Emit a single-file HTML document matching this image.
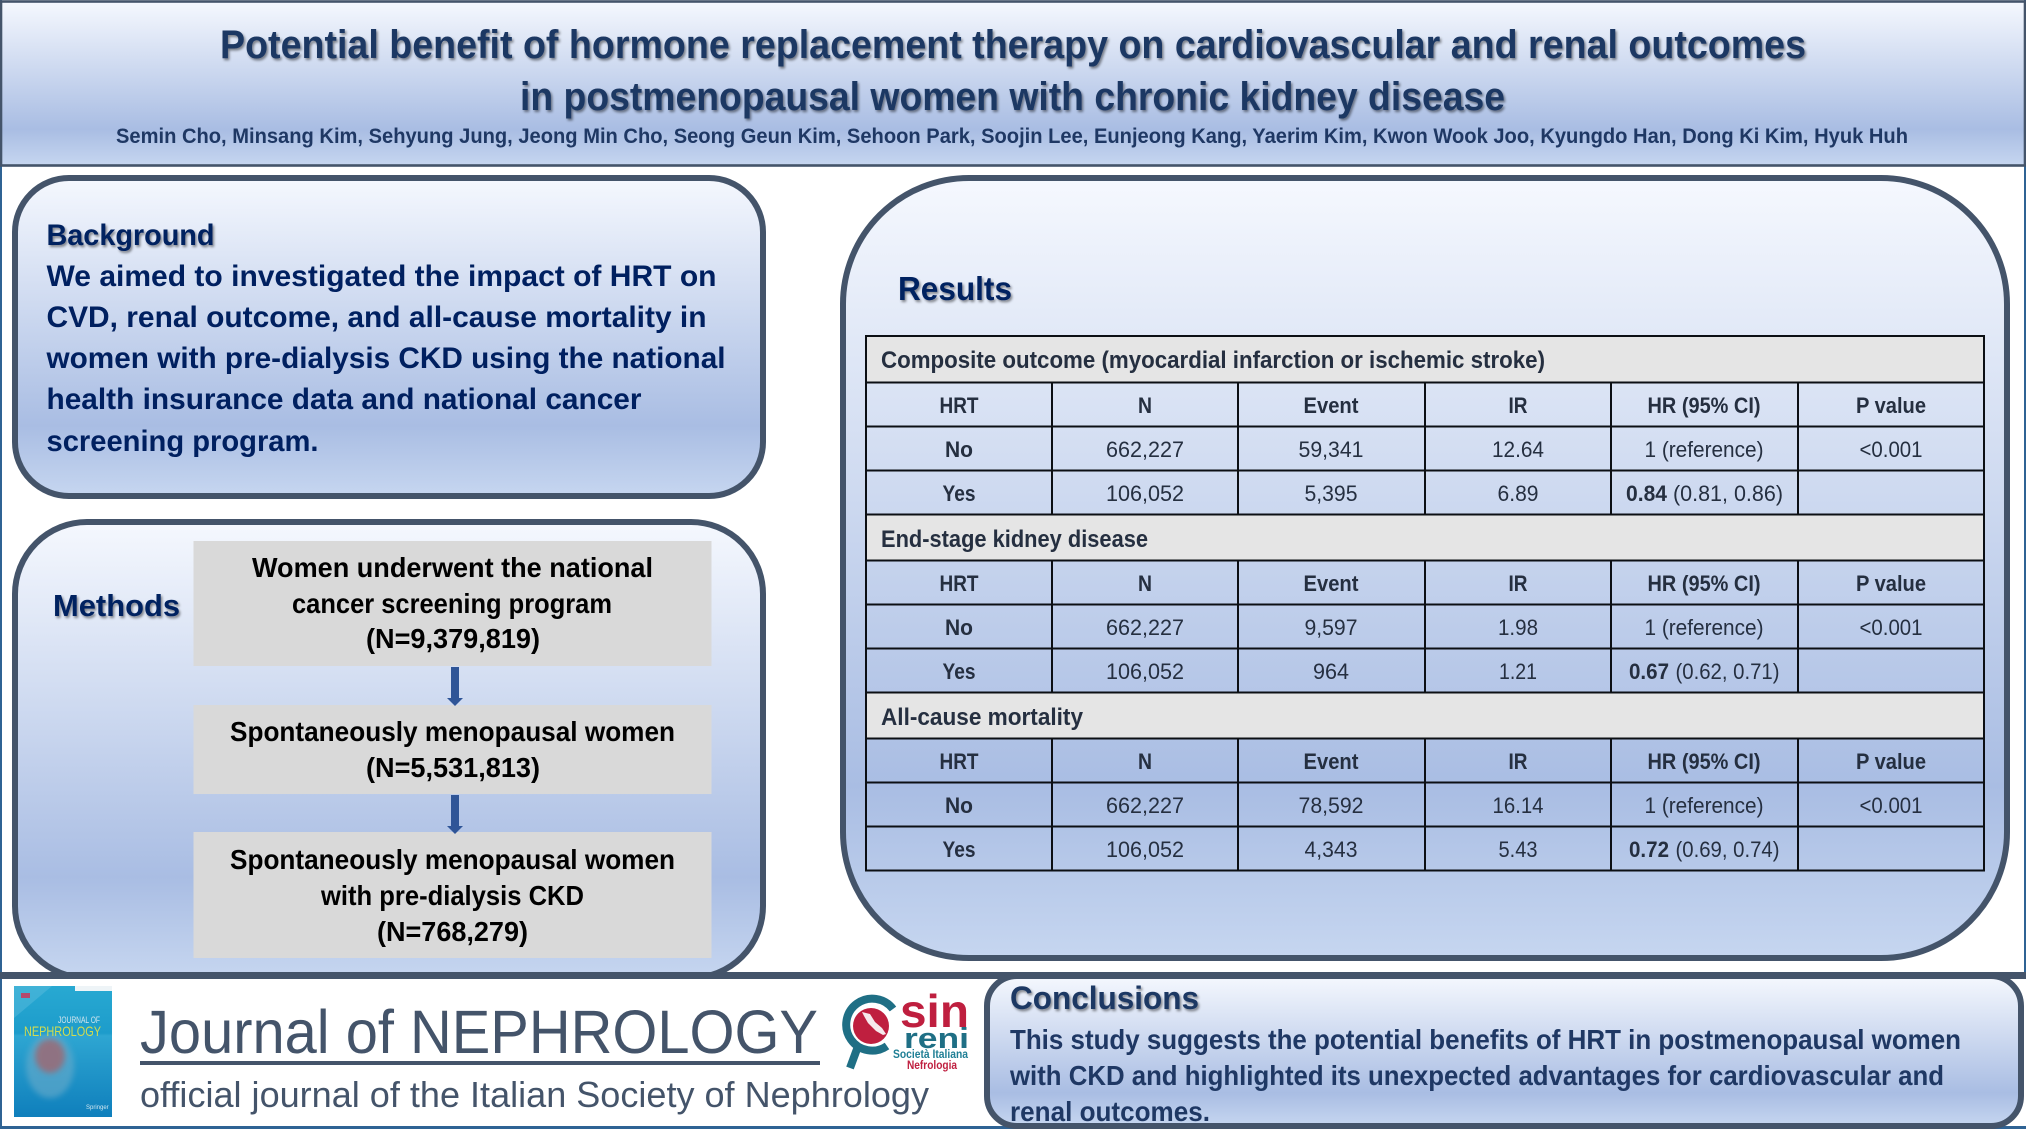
<!DOCTYPE html>
<html lang="en">
<head>
<meta charset="utf-8">
<title>Potential benefit of hormone replacement therapy</title>
<style>
html,body{margin:0;padding:0;background:#fff;width:2026px;height:1130px;overflow:hidden}
svg{display:block;font-family:"Liberation Sans",Arial,sans-serif}
.t{font-weight:700;fill:#1f3864}
.n{font-weight:700;fill:#002060}
.k{font-weight:700;fill:#000;font-size:28px}
.sh{filter:url(#shadow)}
.c{font-size:22px;fill:#252f40;text-anchor:middle}
.b{font-size:22px;fill:#252f40;font-weight:700;text-anchor:middle}
.h{font-size:24px;fill:#252f40;font-weight:700}
.l{font-size:22px;fill:#252f40}
.lb{font-size:22px;fill:#252f40;font-weight:700}
</style>
</head>
<body>
<svg xmlns="http://www.w3.org/2000/svg" width="2026" height="1130" viewBox="0 0 2026 1130">
<defs>
<filter id="shadow" x="-5%" y="-30%" width="110%" height="170%"><feDropShadow dx="1.5" dy="2" stdDeviation="1.4" flood-color="#000" flood-opacity=".45"/></filter>
<filter id="soft" x="-30%" y="-30%" width="160%" height="160%"><feGaussianBlur stdDeviation="3"/></filter>
<linearGradient id="panel" x1="0" y1="0" x2="0" y2="1"><stop offset="0" stop-color="#f5f8fe"/><stop offset=".78" stop-color="#a9bde3"/><stop offset="1" stop-color="#c6d6f0"/></linearGradient>
<linearGradient id="cover" x1="0" y1="0" x2="0" y2="1"><stop offset="0" stop-color="#28a9d2"/><stop offset=".36" stop-color="#1d9ccb"/><stop offset=".38" stop-color="#2ea6d2"/><stop offset="1" stop-color="#0f7fbc"/></linearGradient>
</defs>

<!-- page frame -->
<rect x="0" y="0" width="2026" height="1130" fill="#fff"/>
<path d="M1 0V1128H2025V0" fill="none" stroke="#2f6394" stroke-width="2"/>

<!-- header -->
<g>
<rect x="1" y="1.5" width="2024" height="164" fill="url(#panel)" stroke="#44546a" stroke-width="2.6"/>
<text class="t sh" x="220" y="58" font-size="40" textLength="1586" lengthAdjust="spacingAndGlyphs">Potential benefit of hormone replacement therapy on cardiovascular and renal outcomes</text>
<text class="t sh" x="520" y="110" font-size="40" textLength="985" lengthAdjust="spacingAndGlyphs">in postmenopausal women with chronic kidney disease</text>
<text class="t" x="116" y="143" font-size="21" textLength="1792" lengthAdjust="spacingAndGlyphs">Semin Cho, Minsang Kim, Sehyung Jung, Jeong Min Cho, Seong Geun Kim, Sehoon Park, Soojin Lee, Eunjeong Kang, Yaerim Kim, Kwon Wook Joo, Kyungdo Han, Dong Ki Kim, Hyuk Huh</text>
</g>

<!-- background -->
<g>
<rect x="15" y="178" width="748" height="318" rx="54" fill="url(#panel)" stroke="#44546a" stroke-width="6"/>
<text class="n sh" x="46.5" y="245" font-size="30" textLength="168" lengthAdjust="spacingAndGlyphs">Background</text>
<text class="n" x="46.5" y="286" font-size="30" textLength="670" lengthAdjust="spacingAndGlyphs">We aimed to investigated the impact of HRT on</text>
<text class="n" x="46.5" y="327" font-size="30" textLength="660" lengthAdjust="spacingAndGlyphs">CVD, renal outcome, and all-cause mortality in</text>
<text class="n" x="46.5" y="368" font-size="30" textLength="679" lengthAdjust="spacingAndGlyphs">women with pre-dialysis CKD using the national</text>
<text class="n" x="46.5" y="409" font-size="30" textLength="595" lengthAdjust="spacingAndGlyphs">health insurance data and national cancer</text>
<text class="n" x="46.5" y="451" font-size="30" textLength="272" lengthAdjust="spacingAndGlyphs">screening program.</text>
</g>

<!-- methods -->
<g>
<rect x="15" y="522" width="748" height="456" rx="72" fill="url(#panel)" stroke="#44546a" stroke-width="6"/>
<text class="n sh" x="53" y="616" font-size="31" textLength="127" lengthAdjust="spacingAndGlyphs">Methods</text>
<rect x="193.500" y="541" width="518" height="125" fill="#d9d9d9"/>
<rect x="193.500" y="705" width="518" height="89" fill="#d9d9d9"/>
<rect x="193.500" y="832" width="518" height="126" fill="#d9d9d9"/>
<path d="M451 667h8v31h4l-8 8-8-8h4z" fill="#2f5597"/>
<path d="M451 795h8v31h4l-8 8-8-8h4z" fill="#2f5597"/>
<text class="k" x="252" y="577" textLength="401" lengthAdjust="spacingAndGlyphs">Women underwent the national</text>
<text class="k" x="292" y="613" textLength="320" lengthAdjust="spacingAndGlyphs">cancer screening program</text>
<text class="k" x="366" y="648" textLength="174" lengthAdjust="spacingAndGlyphs">(N=9,379,819)</text>
<text class="k" x="230" y="741" textLength="445" lengthAdjust="spacingAndGlyphs">Spontaneously menopausal women</text>
<text class="k" x="366" y="777" textLength="174" lengthAdjust="spacingAndGlyphs">(N=5,531,813)</text>
<text class="k" x="230" y="869" textLength="445" lengthAdjust="spacingAndGlyphs">Spontaneously menopausal women</text>
<text class="k" x="321" y="905" textLength="263" lengthAdjust="spacingAndGlyphs">with pre-dialysis CKD</text>
<text class="k" x="377" y="941" textLength="151" lengthAdjust="spacingAndGlyphs">(N=768,279)</text>
</g>

<!-- results -->
<g>
<rect x="843" y="178" width="1164" height="780" rx="126" fill="url(#panel)" stroke="#44546a" stroke-width="6"/>
<text class="n sh" x="898" y="300" font-size="33" textLength="114" lengthAdjust="spacingAndGlyphs">Results</text>
</g>

<g>
<rect x="866" y="336" width="1118" height="46.500" fill="#e5e5e5"/>
<rect x="866" y="514.500" width="1118" height="46" fill="#e5e5e5"/>
<rect x="866" y="692.500" width="1118" height="46" fill="#e5e5e5"/>
<path d="M865 336H1985M865 382.500H1985M865 426.500H1985M865 470.500H1985M865 514.500H1985M865 560.500H1985M865 604.500H1985M865 648.500H1985M865 692.500H1985M865 738.500H1985M865 782.500H1985M865 826.500H1985M865 870.500H1985M866 335V871.500M1984 335V871.500M1052 382.500V514.500M1238 382.500V514.500M1425 382.500V514.500M1611 382.500V514.500M1798 382.500V514.500M1052 560.500V692.500M1238 560.500V692.500M1425 560.500V692.500M1611 560.500V692.500M1798 560.500V692.500M1052 738.500V870.500M1238 738.500V870.500M1425 738.500V870.500M1611 738.500V870.500M1798 738.500V870.500" fill="none" stroke="#0c0f14" stroke-width="2"/>

<text class="h" x="881" y="368" textLength="664" lengthAdjust="spacingAndGlyphs">Composite outcome (myocardial infarction or ischemic stroke)</text>
<text class="b" x="959" y="413" textLength="39" lengthAdjust="spacingAndGlyphs">HRT</text>
<text class="b" x="1145" y="413" textLength="14" lengthAdjust="spacingAndGlyphs">N</text>
<text class="b" x="1331" y="413" textLength="55" lengthAdjust="spacingAndGlyphs">Event</text>
<text class="b" x="1518" y="413" textLength="19" lengthAdjust="spacingAndGlyphs">IR</text>
<text class="b" x="1704" y="413" textLength="113" lengthAdjust="spacingAndGlyphs">HR (95% CI)</text>
<text class="b" x="1891" y="413" textLength="70" lengthAdjust="spacingAndGlyphs">P value</text>
<text class="b" x="959" y="457" textLength="28" lengthAdjust="spacingAndGlyphs">No</text>
<text class="c" x="1145" y="457" textLength="78" lengthAdjust="spacingAndGlyphs">662,227</text>
<text class="c" x="1331" y="457" textLength="65" lengthAdjust="spacingAndGlyphs">59,341</text>
<text class="c" x="1518" y="457" textLength="52" lengthAdjust="spacingAndGlyphs">12.64</text>
<text class="c" x="1704" y="457" textLength="119" lengthAdjust="spacingAndGlyphs">1 (reference)</text>
<text class="c" x="1891" y="457" textLength="63" lengthAdjust="spacingAndGlyphs">&lt;0.001</text>
<text class="b" x="959" y="501" textLength="33" lengthAdjust="spacingAndGlyphs">Yes</text>
<text class="c" x="1145" y="501" textLength="78" lengthAdjust="spacingAndGlyphs">106,052</text>
<text class="c" x="1331" y="501" textLength="53" lengthAdjust="spacingAndGlyphs">5,395</text>
<text class="c" x="1518" y="501" textLength="41" lengthAdjust="spacingAndGlyphs">6.89</text>
<text class="lb" x="1626" y="501" textLength="41" lengthAdjust="spacingAndGlyphs">0.84</text>
<text class="l" x="1673" y="501" textLength="110" lengthAdjust="spacingAndGlyphs">(0.81, 0.86)</text>

<text class="h" x="881" y="547" textLength="267" lengthAdjust="spacingAndGlyphs">End-stage kidney disease</text>
<text class="b" x="959" y="591" textLength="39" lengthAdjust="spacingAndGlyphs">HRT</text>
<text class="b" x="1145" y="591" textLength="14" lengthAdjust="spacingAndGlyphs">N</text>
<text class="b" x="1331" y="591" textLength="55" lengthAdjust="spacingAndGlyphs">Event</text>
<text class="b" x="1518" y="591" textLength="19" lengthAdjust="spacingAndGlyphs">IR</text>
<text class="b" x="1704" y="591" textLength="113" lengthAdjust="spacingAndGlyphs">HR (95% CI)</text>
<text class="b" x="1891" y="591" textLength="70" lengthAdjust="spacingAndGlyphs">P value</text>
<text class="b" x="959" y="635" textLength="28" lengthAdjust="spacingAndGlyphs">No</text>
<text class="c" x="1145" y="635" textLength="78" lengthAdjust="spacingAndGlyphs">662,227</text>
<text class="c" x="1331" y="635" textLength="53" lengthAdjust="spacingAndGlyphs">9,597</text>
<text class="c" x="1518" y="635" textLength="40" lengthAdjust="spacingAndGlyphs">1.98</text>
<text class="c" x="1704" y="635" textLength="119" lengthAdjust="spacingAndGlyphs">1 (reference)</text>
<text class="c" x="1891" y="635" textLength="63" lengthAdjust="spacingAndGlyphs">&lt;0.001</text>
<text class="b" x="959" y="679" textLength="33" lengthAdjust="spacingAndGlyphs">Yes</text>
<text class="c" x="1145" y="679" textLength="78" lengthAdjust="spacingAndGlyphs">106,052</text>
<text class="c" x="1331" y="679" textLength="36" lengthAdjust="spacingAndGlyphs">964</text>
<text class="c" x="1518" y="679" textLength="38" lengthAdjust="spacingAndGlyphs">1.21</text>
<text class="lb" x="1629" y="679" textLength="40" lengthAdjust="spacingAndGlyphs">0.67</text>
<text class="l" x="1675.500" y="679" textLength="104" lengthAdjust="spacingAndGlyphs">(0.62, 0.71)</text>

<text class="h" x="881" y="725" textLength="202" lengthAdjust="spacingAndGlyphs">All-cause mortality</text>
<text class="b" x="959" y="769" textLength="39" lengthAdjust="spacingAndGlyphs">HRT</text>
<text class="b" x="1145" y="769" textLength="14" lengthAdjust="spacingAndGlyphs">N</text>
<text class="b" x="1331" y="769" textLength="55" lengthAdjust="spacingAndGlyphs">Event</text>
<text class="b" x="1518" y="769" textLength="19" lengthAdjust="spacingAndGlyphs">IR</text>
<text class="b" x="1704" y="769" textLength="113" lengthAdjust="spacingAndGlyphs">HR (95% CI)</text>
<text class="b" x="1891" y="769" textLength="70" lengthAdjust="spacingAndGlyphs">P value</text>
<text class="b" x="959" y="813" textLength="28" lengthAdjust="spacingAndGlyphs">No</text>
<text class="c" x="1145" y="813" textLength="78" lengthAdjust="spacingAndGlyphs">662,227</text>
<text class="c" x="1331" y="813" textLength="65" lengthAdjust="spacingAndGlyphs">78,592</text>
<text class="c" x="1518" y="813" textLength="51" lengthAdjust="spacingAndGlyphs">16.14</text>
<text class="c" x="1704" y="813" textLength="119" lengthAdjust="spacingAndGlyphs">1 (reference)</text>
<text class="c" x="1891" y="813" textLength="63" lengthAdjust="spacingAndGlyphs">&lt;0.001</text>
<text class="b" x="959" y="857" textLength="33" lengthAdjust="spacingAndGlyphs">Yes</text>
<text class="c" x="1145" y="857" textLength="78" lengthAdjust="spacingAndGlyphs">106,052</text>
<text class="c" x="1331" y="857" textLength="53" lengthAdjust="spacingAndGlyphs">4,343</text>
<text class="c" x="1518" y="857" textLength="39" lengthAdjust="spacingAndGlyphs">5.43</text>
<text class="lb" x="1629" y="857" textLength="40" lengthAdjust="spacingAndGlyphs">0.72</text>
<text class="l" x="1675.500" y="857" textLength="104" lengthAdjust="spacingAndGlyphs">(0.69, 0.74)</text>
</g>

<!-- footer -->
<g>
<rect x="0" y="979" width="2026" height="147" fill="#fff"/>
<rect x="0" y="972" width="2026" height="7" fill="#44546a"/>
<rect x="0" y="979" width="2" height="149" fill="#2f6394"/>
<rect x="0" y="1126" width="2026" height="2" fill="#2f6394"/>

<g>
<rect x="14" y="986" width="98" height="131" fill="url(#cover)"/>
<path d="M14 986H52L14 1018Z" fill="#6fc7e3" opacity=".35"/>
<rect x="75" y="986" width="37" height="5" fill="#eef4f7"/>
<rect x="21" y="993" width="9" height="5" fill="#b5496e"/>
<ellipse cx="50" cy="1066" rx="24" ry="32" fill="#6aaccb" opacity=".6" filter="url(#soft)"/>
<ellipse cx="50" cy="1056" rx="15" ry="17" fill="#a0666f" opacity=".8" filter="url(#soft)"/>
<text x="58" y="1023" font-size="9" fill="#d4e6ee" textLength="42" lengthAdjust="spacingAndGlyphs">JOURNAL OF</text>
<text x="24" y="1036" font-size="14" fill="#d3dc4f" textLength="77" lengthAdjust="spacingAndGlyphs">NEPHROLOGY</text>
<text x="86" y="1109" font-size="6" fill="#cfe6f0">Springer</text>
</g>

<text x="140" y="1053" font-size="61" fill="#44546a" textLength="678" lengthAdjust="spacingAndGlyphs">Journal of NEPHROLOGY</text>
<rect x="140" y="1061" width="680" height="4" fill="#44546a"/>
<text x="140" y="1107" font-size="36" fill="#44546a" textLength="789" lengthAdjust="spacingAndGlyphs">official journal of the Italian Society of Nephrology</text>

<g>
<circle cx="871" cy="1026" r="18" fill="#bf1f3f"/>
<path d="M862 1012l8 2 5 8 7 6 4 6-3 1-7-4-8-8-4-7z" fill="#f6e9ec"/>
<path d="M893 1009A26 26 0 1 0 887 1046" fill="none" stroke="#1f6f85" stroke-width="8"/>
<path d="M857 1049L850 1068" fill="none" stroke="#1f6f85" stroke-width="8"/>
<text x="900" y="1027" font-size="46" font-weight="700" fill="#bf1f3f" textLength="69" lengthAdjust="spacingAndGlyphs">sin</text>
<text x="904" y="1048" font-size="29" font-weight="700" fill="#1f6f85" textLength="65" lengthAdjust="spacingAndGlyphs">reni</text>
<text x="893" y="1058" font-size="12" font-weight="700" fill="#1f7f95" textLength="75" lengthAdjust="spacingAndGlyphs">Società Italiana</text>
<text x="907" y="1069" font-size="12" font-weight="700" fill="#bf1f3f" textLength="50" lengthAdjust="spacingAndGlyphs">Nefrologia</text>
</g>
</g>

<!-- conclusions -->
<g>
<rect x="987" y="976" width="1034" height="150" rx="30" fill="url(#panel)" stroke="#44546a" stroke-width="6"/>
<text class="t sh" x="1010" y="1009" font-size="32" textLength="189" lengthAdjust="spacingAndGlyphs">Conclusions</text>
<text class="t" x="1010" y="1049" font-size="28" textLength="951" lengthAdjust="spacingAndGlyphs">This study suggests the potential benefits of HRT in postmenopausal women</text>
<text class="t" x="1010" y="1085" font-size="28" textLength="934" lengthAdjust="spacingAndGlyphs">with CKD and highlighted its unexpected advantages for cardiovascular and</text>
<text class="t" x="1010" y="1121" font-size="28" textLength="200" lengthAdjust="spacingAndGlyphs">renal outcomes.</text>
</g>
</svg>
</body>
</html>
